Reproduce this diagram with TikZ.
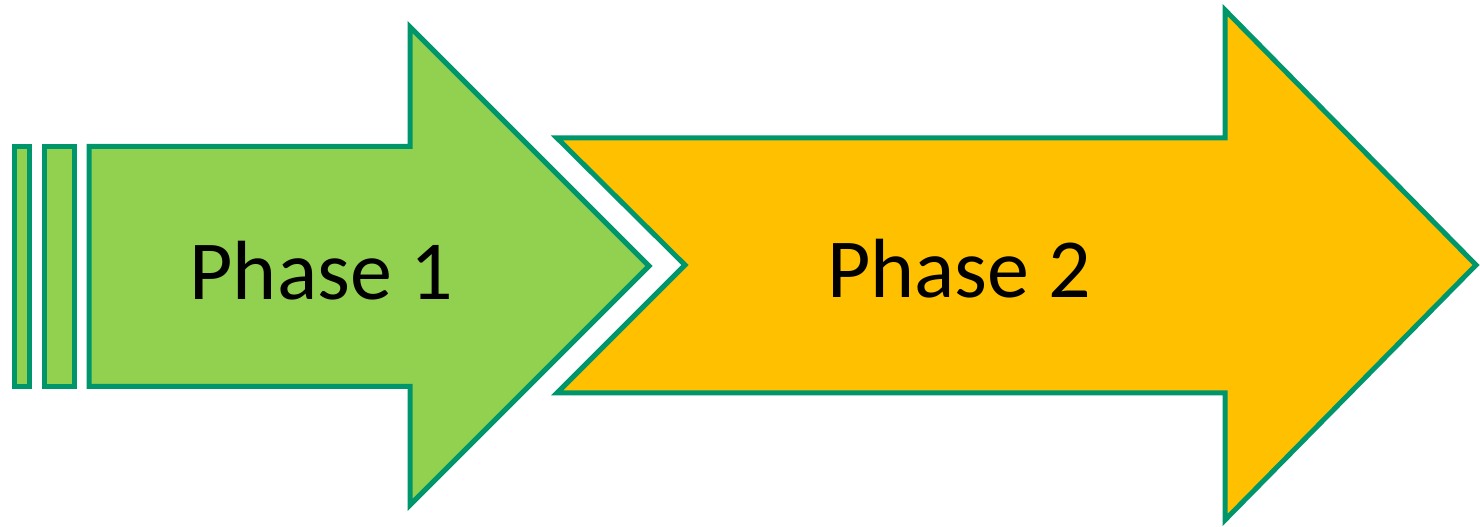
\documentclass[tikz,border=0pt]{standalone}
\usepackage{fontspec}
\setmainfont{Carlito}
\definecolor{phaseedge}{RGB}{0,150,108}
\definecolor{phasegreen}{RGB}{146,208,80}
\definecolor{phaseorange}{RGB}{255,192,0}
\tikzset{
  phaseshape/.style={draw=phaseedge, line width=5pt, line join=miter},
  phaselabel/.style={anchor=base, font=\fontsize{84}{96}\selectfont}
}
\begin{document}
\begin{tikzpicture}[x=1pt, y=1pt]
      \useasboundingbox (0,0) rectangle (1480,527);

      % Stripes in front of phase 1
      \filldraw[phaseshape, fill=phasegreen] (14,140.5) rectangle (29,380.5);
      \filldraw[phaseshape, fill=phasegreen] (44,140.5) rectangle (74,380.5);

      % Phase 1 arrow (green)
      \filldraw[phaseshape, fill=phasegreen]
        (89,140.5) -- (89,380.5) -- (410,380.5) -- (410,500) -- (649,261)
        -- (410,22) -- (410,140.5) -- cycle;

      % Phase 2 arrow (orange, notched)
      \filldraw[phaseshape, fill=phaseorange]
        (557,134) -- (685,262) -- (557,389) -- (1225,389) -- (1225,517)
        -- (1476,262) -- (1225,7) -- (1225,134) -- cycle;

      % Labels
      \node[phaselabel] (p1) at (321.5,227) {Phase 1};
      \node[phaselabel] (p2) at (959,229) {Phase 2};
\end{tikzpicture}
\end{document}
